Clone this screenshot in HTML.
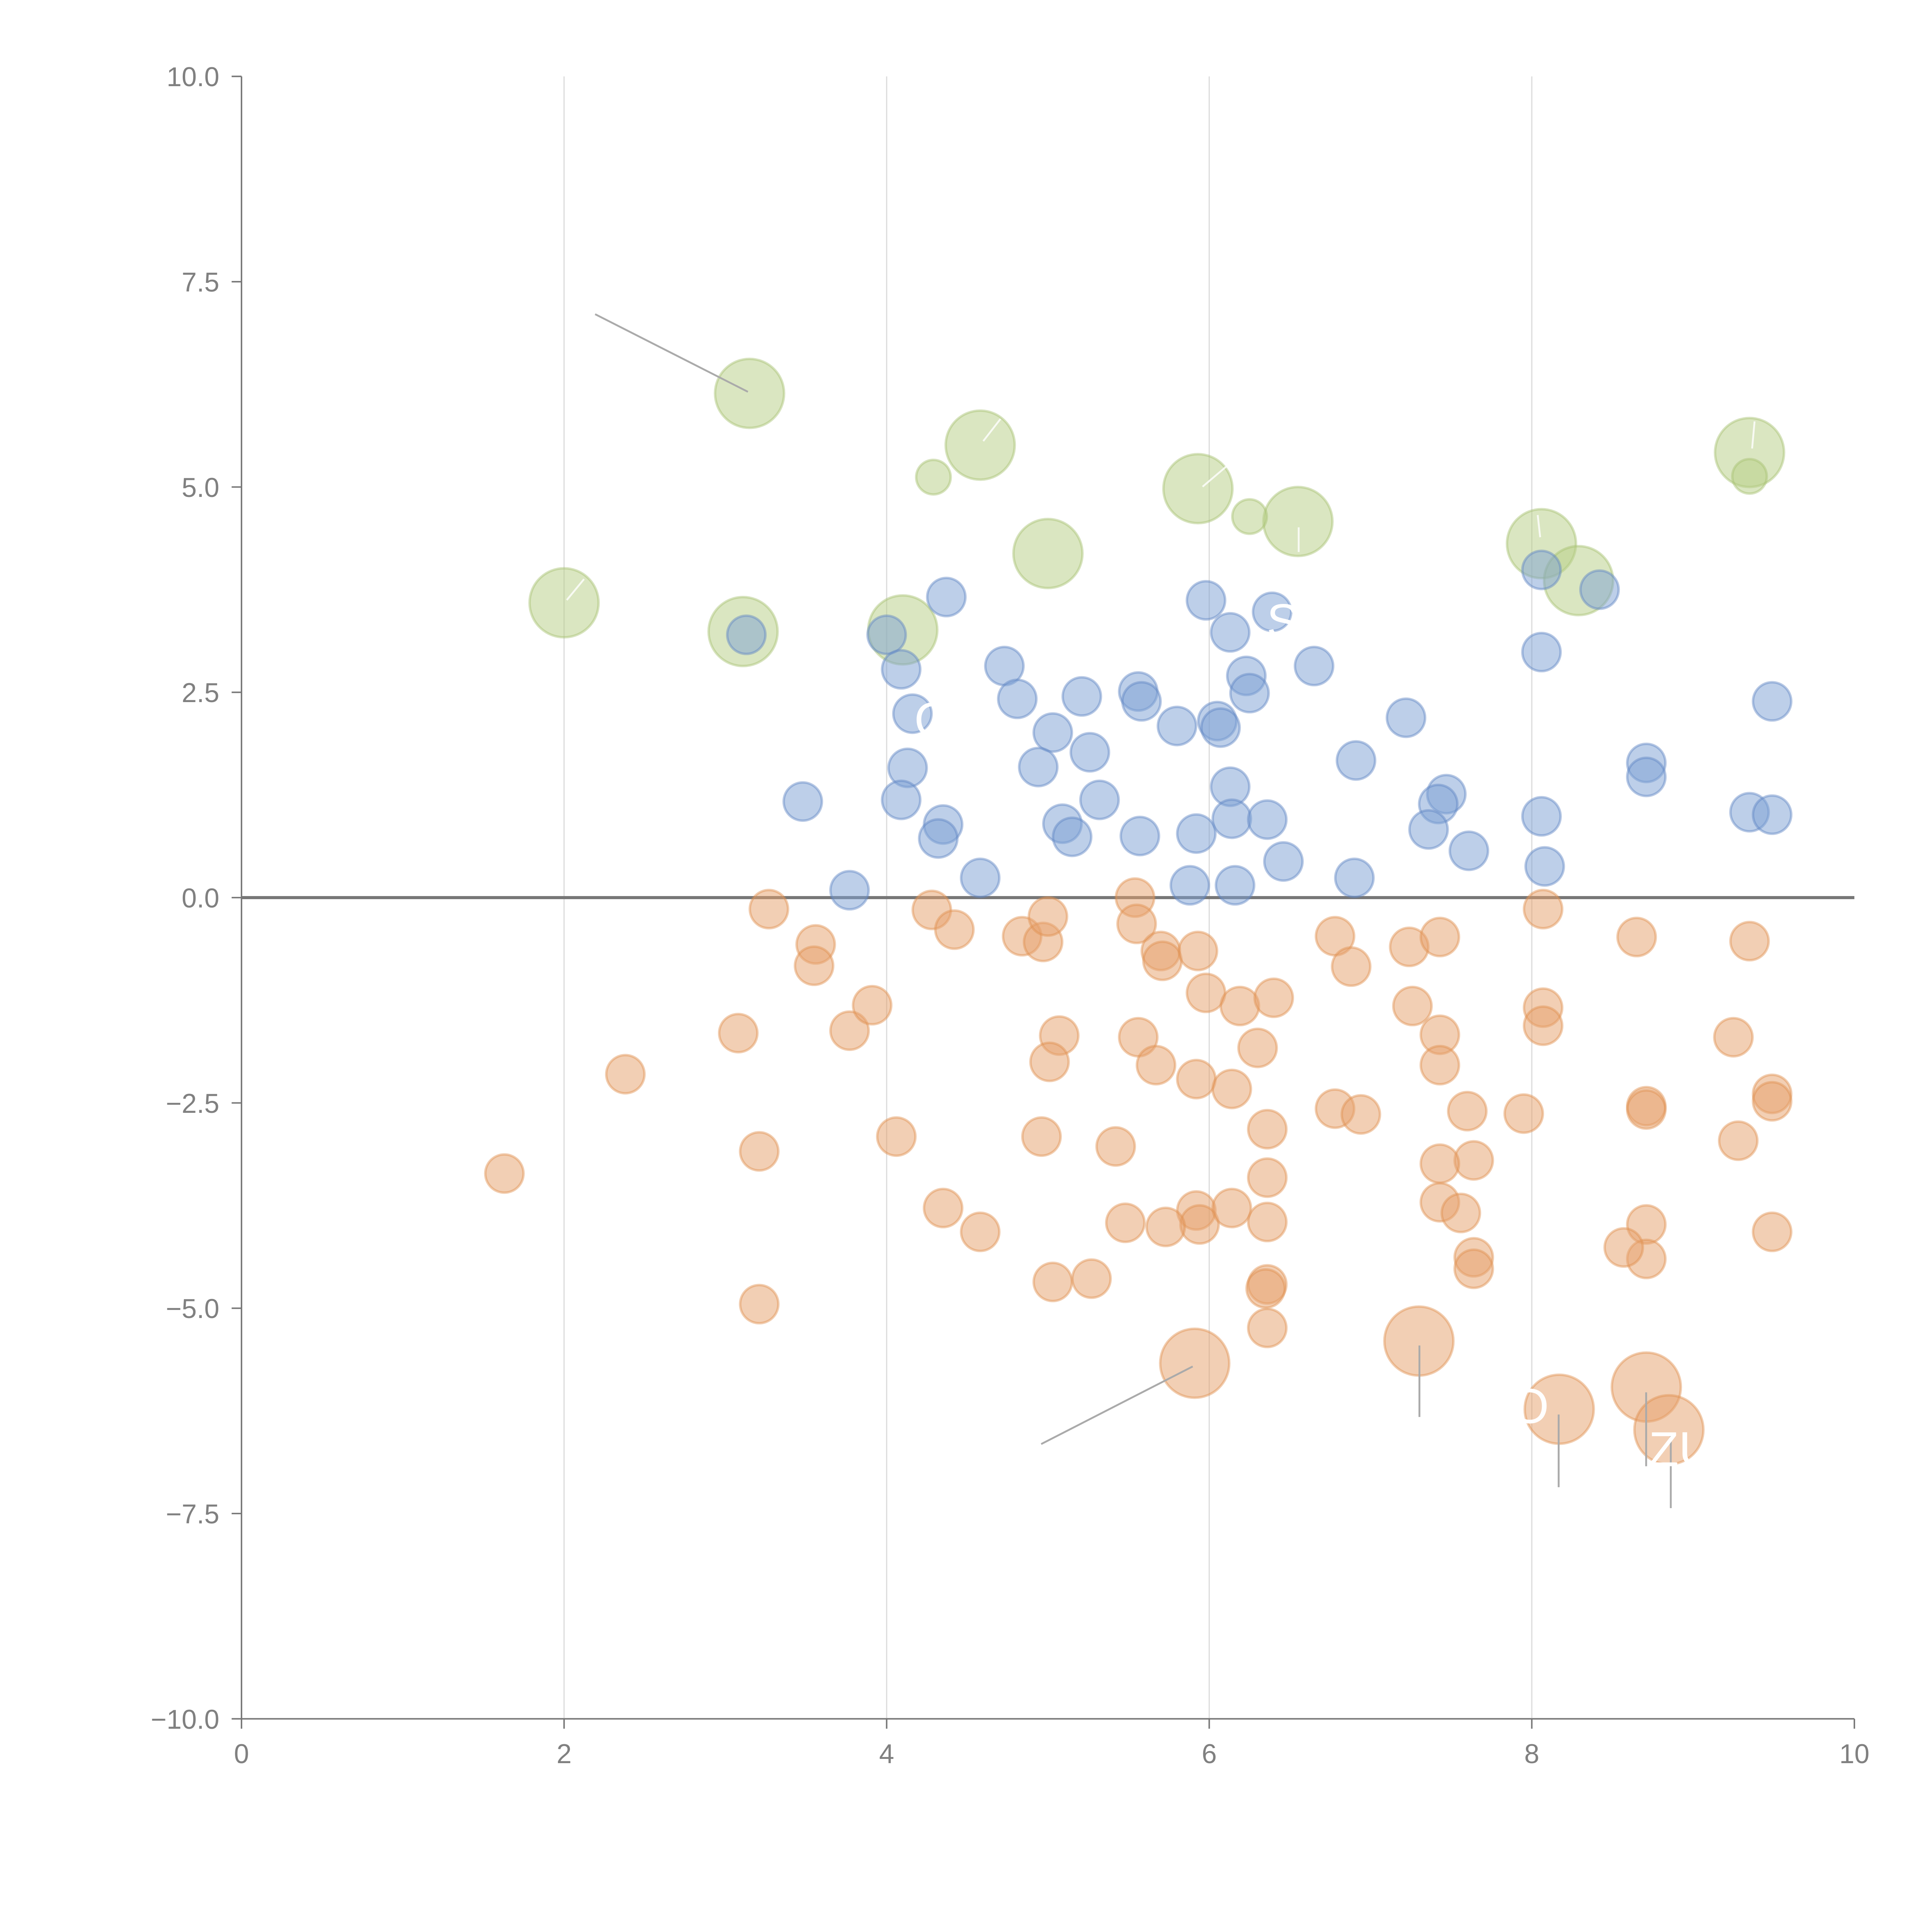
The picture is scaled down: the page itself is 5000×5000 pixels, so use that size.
<!DOCTYPE html>
<html><head><meta charset="utf-8"><style>html,body{margin:0;padding:0;background:#fff}svg{display:block}</style></head>
<body>
<svg id="chart" width="5000" height="5000" viewBox="0 0 1568 1568" xmlns="http://www.w3.org/2000/svg" font-family="Liberation Sans, sans-serif">
<g id="grid"></g>
<g id="axes"></g>
<g id="marks"></g>
<g id="annot"></g>
</svg>
<script>
const blueX=[3.13,4.0,4.09,4.37,4.16,4.13,4.09,4.35,4.32,3.48,3.77,4.58,4.73,4.81,5.03,5.21,4.94,5.26,5.09,5.15,5.32,5.56,5.58,5.80,5.57,5.92,5.88,5.98,6.13,6.05,6.07,6.23,6.25,6.13,6.14,6.16,6.39,6.65,6.36,6.46,7.22,6.91,6.90,7.47,7.42,7.36,7.61,8.06,8.06,8.42,8.06,8.08,8.71,8.71,9.49,9.35,9.49];
const blueY=[3.20,3.2,2.78,3.66,2.24,1.58,1.19,0.89,0.72,1.17,0.09,0.24,2.82,2.42,2.01,2.45,1.59,1.77,0.90,0.74,1.19,2.51,2.39,2.09,0.75,0.78,0.15,3.62,3.23,2.15,2.07,2.70,2.49,1.35,0.96,0.15,3.48,2.82,0.95,0.44,2.19,1.67,0.24,1.26,1.14,0.83,0.57,3.99,2.99,3.75,0.99,0.38,1.64,1.47,2.39,1.04,1.01];
const orangeX=[1.63,2.38,3.08,3.21,3.21,3.27,3.56,3.55,3.77,3.91,4.06,4.28,4.42,4.35,4.58,4.84,4.97,5.0,5.07,5.01,4.96,5.03,5.27,5.42,5.48,5.54,5.55,5.56,5.67,5.70,5.71,5.93,5.98,5.92,5.92,5.94,5.73,6.19,6.40,6.30,6.14,6.36,6.36,6.14,6.36,6.36,6.35,6.36,6.78,6.88,6.78,6.94,7.24,7.43,7.26,7.43,7.43,7.60,7.64,7.43,7.43,7.56,7.64,7.64,7.95,8.07,8.07,8.07,8.65,8.71,8.71,8.71,8.71,8.57,9.35,9.25,9.49,9.49,9.28,9.49];
const orangeY=[-3.36,-2.15,-1.65,-3.09,-4.95,-0.14,-0.57,-0.83,-1.62,-1.31,-2.91,-0.15,-0.39,-3.78,-4.07,-0.47,-0.54,-0.23,-1.68,-2.0,-2.91,-4.68,-4.64,-3.03,-3.96,0,-0.32,-1.70,-2.04,-0.65,-0.77,-0.65,-1.16,-2.21,-3.81,-3.98,-4.01,-1.32,-1.22,-1.83,-2.33,-2.82,-3.41,-3.78,-3.95,-4.71,-4.76,-5.24,-0.47,-0.84,-2.57,-2.64,-0.60,-0.48,-1.32,-1.67,-2.04,-2.60,-3.20,-3.24,-3.71,-3.84,-4.38,-4.52,-2.63,-0.14,-1.34,-1.56,-0.48,-2.54,-2.58,-3.98,-4.40,-4.26,-0.53,-1.70,-2.39,-2.48,-2.96,-4.07];
const orangeBigX=[5.91,7.30,8.17,8.71,8.85];
const orangeBigY=[-5.67,-5.40,-6.23,-5.96,-6.48];
const greenBigX=[3.15,4.58,5.93,6.55,5.0,2.0,3.11,4.10,8.06,8.29,9.35];
const greenBigY=[6.14,5.51,4.98,4.58,4.19,3.59,3.24,3.26,4.31,3.86,5.42];
const greenSmallX=[4.29,6.25,9.35];
const greenSmallY=[5.12,4.64,5.13];
const xTicks=[0,2,4,6,8,10];
const yTicks=[10,7.5,5,2.5,0,-2.5,-5,-7.5,-10];
const yTickLabels=["10.0","7.5","5.0","2.5","0.0","−2.5","−5.0","−7.5","−10.0"];

const NS="http://www.w3.org/2000/svg";
const X0=196,X1=1505,Y0=1395,Y1=62;
const sx=v=>X0+(v-0)/(10-0)*(X1-X0);
const sy=v=>Y0-(v+10)/20*(Y0-Y1);
function mk(tag,attrs,parent){const e=document.createElementNS(NS,tag);for(const k in attrs)e.setAttribute(k,attrs[k]);parent.appendChild(e);return e;}
const grid=document.getElementById('grid'),axes=document.getElementById('axes'),marks=document.getElementById('marks'),annot=document.getElementById('annot');

xTicks.forEach(t=>{if(t>0&&t<10){const l=mk('line',{x1:sx(t),x2:sx(t),y1:Y1,y2:Y0,stroke:'#ddd','stroke-width':1},grid);

}});
const z=mk('line',{x1:X0,x2:X1,y1:sy(0),y2:sy(0),stroke:'#777','stroke-width':2.5},axes);


const ya=mk('line',{x1:X0,x2:X0,y1:Y1,y2:Y0,stroke:'#777','stroke-width':1.2},axes);


const xa=mk('line',{x1:X0,x2:X1,y1:Y0,y2:Y0,stroke:'#777','stroke-width':1.2},axes);


xTicks.forEach(t=>{mk('line',{x1:sx(t),x2:sx(t),y1:Y0,y2:Y0+8,stroke:'#777','stroke-width':1.2},axes);
const tx=mk('text',{x:sx(t),y:Y0+36,'text-anchor':'middle','font-size':22,fill:'#808080'},axes);tx.textContent=t;

});
yTicks.forEach((t,i)=>{mk('line',{x1:X0-8,x2:X0,y1:sy(t),y2:sy(t),stroke:'#777','stroke-width':1.2},axes);
const tx=mk('text',{x:X0-18,y:sy(t)+8,'text-anchor':'end','font-size':22,fill:'#808080'},axes);tx.textContent=yTickLabels[i];

});

function series(xs,ys,r,fill,stroke,name){xs.forEach((x,i)=>{const c=mk('circle',{cx:sx(x),cy:sy(ys[i]),r:r,fill:fill,'fill-opacity':0.5,stroke:stroke,'stroke-opacity':0.45,'stroke-width':2},marks);

});}
series(greenBigX,greenBigY,28,'#b5cd84','#a6c271','green-bubble');
series(greenSmallX,greenSmallY,14,'#b5cd84','#a6c271','green-bubble-small');
series(blueX,blueY,15.5,'#7b9fd3','#5f86c4','blue-point');
series(orangeX,orangeY,15.5,'#e6a06a','#e0904f','orange-point');
series(orangeBigX,orangeBigY,28,'#e6a06a','#e0904f','orange-bubble');

[[483,255,607,318],[845,1172,968,1109],[1152,1092,1152,1150],[1265,1148,1265,1207],[1336,1130,1336,1190],[1356,1165,1356,1224]].forEach(a=>{const l=mk('line',{x1:a[0],y1:a[1],x2:a[2],y2:a[3],stroke:'#aaa','stroke-width':1.5},annot);

});
[[460,487,474,470],[798,358,812,340],[976,395,996,378],[1054,448,1054,428],[1250,436,1248,418],[1422,364,1424,342]].forEach(a=>{const l=mk('line',{x1:a[0],y1:a[1],x2:a[2],y2:a[3],stroke:'#fff','stroke-width':1.5,'stroke-opacity':0.8},annot);

});
[["O",1226,1155],["ZU",1338,1190],["S",1028,518],["O",742,598]].forEach(a=>{const t=mk('text',{x:a[1],y:a[2],'font-size':40,fill:'#fff'},annot);t.textContent=a[0];

});
</script>
</body></html>
